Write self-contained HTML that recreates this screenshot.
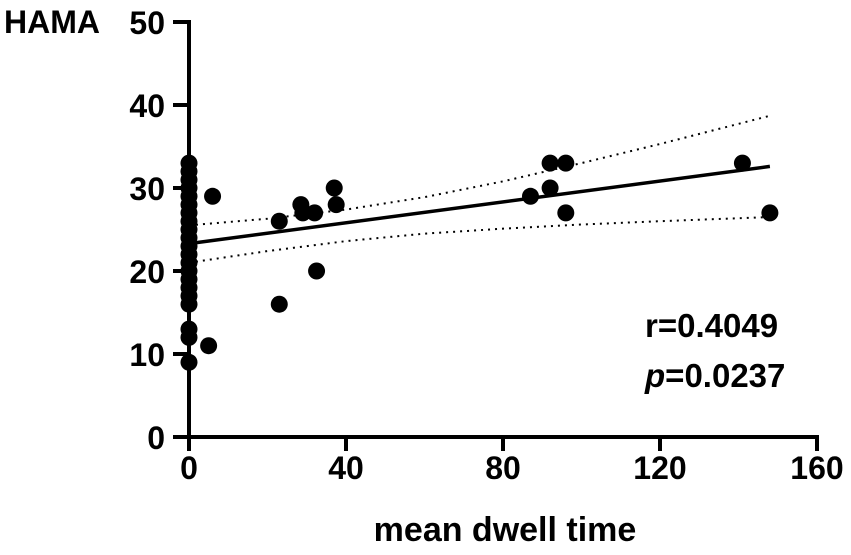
<!DOCTYPE html>
<html><head><meta charset="utf-8"><style>
html,body{margin:0;padding:0;background:#fff;}
svg text{font-family:"Liberation Sans",Arial,sans-serif;font-weight:bold;fill:#000;}
</style></head><body>
<svg id="chart" width="851" height="550" viewBox="0 0 851 550" xmlns="http://www.w3.org/2000/svg">
<text x="4" y="33" font-size="32">HAMA</text>
<text x="505" y="541" font-size="34" text-anchor="middle">mean dwell time</text>
<text x="645" y="337" font-size="33">r=0.4049</text>
<text x="645" y="387" font-size="33"><tspan font-style="italic">p</tspan>=0.0237</text>
<g id="g"></g>
</svg>
<script>
const xs=[0,0,0,0,0,0,0,0,0,0,0,0,0,0,0,0,0,0,0,0,0,6,5,23,23,28.5,29,32,32.5,37,37.5,87,92,92,96,96,141,148];
const ys=[33,32,29,28,27,26,25,24,23,22,21,20,19,18,16,13,12,9,30,31,17,29,11,26,16,28,27,27,20,30,28,29,33,30,33,27,33,27];
const xTicks=[0,40,80,120,160];
const yTicks=[0,10,20,30,40,50];
const fitX=[0,148];
const fitY=[23.3,32.6];
const ciX=[0,20,40,60,80,100,120,148];
const ciUpper=[25.5,26.3,27.4,28.9,30.8,33.0,35.3,38.7];
const ciLower=[21.0,22.4,23.6,24.5,25.1,25.6,26.0,26.5];
const X=v=>189+v*(628/160);
const Y=v=>437-v*(415/50);
const g=document.getElementById('g');
const NS='http://www.w3.org/2000/svg';
function mk(t,a){const e=document.createElementNS(NS,t);for(const k in a)e.setAttribute(k,a[k]);g.appendChild(e);return e;}
let e;
e=mk('line',{x1:X(0),y1:Y(0),x2:X(0),y2:Y(50)-2,stroke:'#000','stroke-width':4});


e=mk('line',{x1:X(0)-2,y1:Y(0),x2:X(160)+2,y2:Y(0),stroke:'#000','stroke-width':4});


yTicks.forEach(v=>{
 e=mk('line',{x1:X(0)-16,y1:Y(v),x2:X(0),y2:Y(v),stroke:'#000','stroke-width':4});
 
 
 e=mk('text',{x:X(0)-24,y:Y(v)+12,'font-size':32,'text-anchor':'end'});e.textContent=v;
 
 
});
xTicks.forEach(v=>{
 e=mk('line',{x1:X(v),y1:Y(0),x2:X(v),y2:Y(0)+14,stroke:'#000','stroke-width':4});
 
 
 e=mk('text',{x:X(v),y:Y(0)+42,'font-size':32,'text-anchor':'middle'});e.textContent=v;
 
 
});
e=mk('polyline',{points:ciX.map((x,i)=>X(x)+','+Y(ciUpper[i])).join(' '),fill:'none',stroke:'#000','stroke-width':2,'stroke-dasharray':'2 5'});


e=mk('polyline',{points:ciX.map((x,i)=>X(x)+','+Y(ciLower[i])).join(' '),fill:'none',stroke:'#000','stroke-width':2,'stroke-dasharray':'2 5'});


e=mk('line',{x1:X(fitX[0]),y1:Y(fitY[0]),x2:X(fitX[1]),y2:Y(fitY[1]),stroke:'#000','stroke-width':3.5});


xs.forEach((x,i)=>{
 e=mk('circle',{cx:X(x),cy:Y(ys[i]),r:8.5,fill:'#000'});
 
 
});
</script>
</body></html>
